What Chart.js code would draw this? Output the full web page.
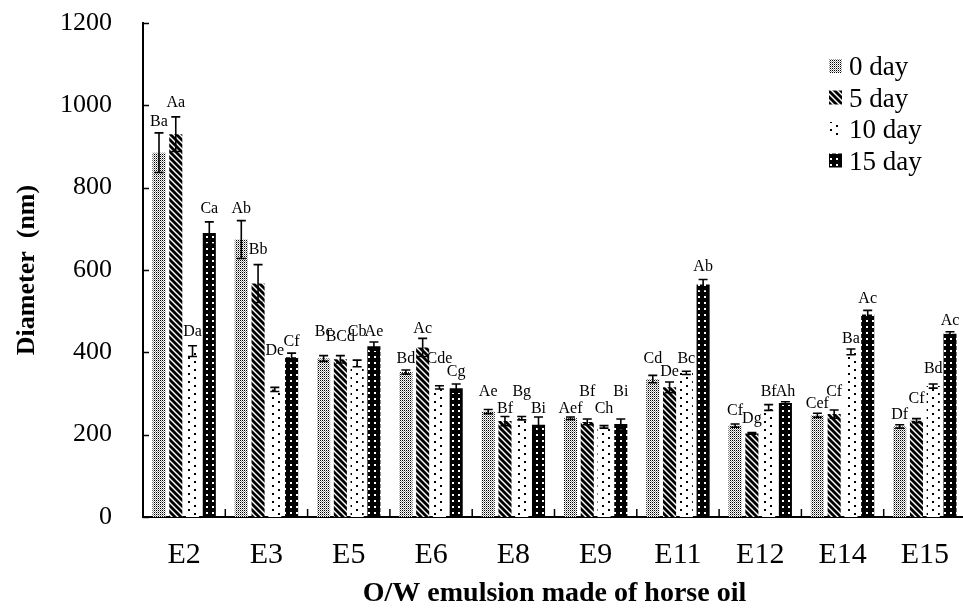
<!DOCTYPE html>
<html><head><meta charset="utf-8">
<script src="https://cdn.jsdelivr.net/npm/chart.js@4.4.0/dist/chart.umd.min.js"></script>
<style>
html,body{margin:0;padding:0;overflow:hidden;background:#fff;width:963px;height:608px}
#wrap{position:relative;width:980px;height:608px}
</style>
</head><body><div id="wrap"><canvas id="c"></canvas></div>
<script>
// ---- data ----
const categories = ['E2','E3','E5','E6','E8','E9','E11','E12','E14','E15'];
const seriesNames = ['0 day','5 day','10 day','15 day'];
const day0  = [885, 674, 385, 352, 256, 240, 335, 222, 247, 220];
const day5  = [930, 567, 383, 412, 233, 231, 315, 203, 250, 234];
const day10 = [403, 310, 373, 315, 240, 219, 350, 266, 401, 318];
const day15 = [690, 388, 415, 313, 224, 226, 565, 277, 492, 445];
const day0Err  = [48, 46, 7, 5, 5, 3, 9, 4, 5, 4];
const day5Err  = [42, 46, 9, 22, 11, 7, 13, 2, 10, 5];
const day10Err = [13, 5, 8, 4, 4, 3, 4, 7, 7, 5];
const day15Err = [27, 10, 10, 10, 19, 12, 12, 3, 10, 5];
const day0Letters  = ['Ba','Ab','Bc','Bd','Ae','Aef','Cd','Cf','Cef','Df'];
const day5Letters  = ['Aa','Bb','BCd','Ac','Bf','Bf','De','Dg','Cf','Cf'];
const day10Letters = ['Da','De','Cb','Cde','Bg','Ch','Bc','Bf','Ba','Bd'];
const day15Letters = ['Ca','Cf','Ae','Cg','Bi','Bi','Ab','Ah','Ac','Ac'];
// value (nm) at which each letter label sits
const day0LabelAt  = [950, 739, 440, 374, 293, 252, 375, 248, 265, 238];
const day5LabelAt  = [995, 638, 427, 447, 252, 293, 342, 228, 293, 277];
const day10LabelAt = [439, 394, 440, 374, 295, 252, 374, 293, 423, 350];
const day15LabelAt = [739, 415, 440, 342, 252, 293, 597, 293, 520, 467];
const yTicks = [0, 200, 400, 600, 800, 1000, 1200];

// ---- patterns ----
function tile(w, h, draw) {
  const c = document.createElement('canvas'); c.width = w; c.height = h;
  const g = c.getContext('2d'); draw(g, w, h);
  return g.createPattern(c, 'repeat');
}
const pat0 = tile(2, 2, g => {
  g.fillStyle = '#fff'; g.fillRect(0,0,2,2);
  g.fillStyle = '#000'; g.fillRect(0,0,1,1);
  g.fillStyle = '#999'; g.fillRect(1,1,1,1);
});
const pat5 = tile(6, 6, g => {
  g.fillStyle = '#fff'; g.fillRect(0,0,6,6);
  g.strokeStyle = '#000'; g.lineWidth = 2.8;
  for (let k = -1; k <= 1; k++) { g.beginPath(); g.moveTo(k*6-1, -1); g.lineTo(k*6+7, 7); g.stroke(); }
});
const pat10 = tile(12, 8, g => {
  g.fillStyle = '#fff'; g.fillRect(0,0,12,8);
  g.fillStyle = '#000'; g.fillRect(2,1,2,2); g.fillRect(8,5,2,2);
});
const pat15 = tile(6, 6, g => {
  g.fillStyle = '#000'; g.fillRect(0,0,6,6);
  g.fillStyle = '#fff'; g.fillRect(2,2,2,2);
});

const SERIF = "'Liberation Serif', 'Times New Roman', serif";

const annotPlugin = {
  id: 'annot',
  afterDatasetsDraw(chart) {
    const ctx = chart.ctx, y = chart.scales.y, x = chart.scales.x, ca = chart.chartArea;
    ctx.save();
    chart.data.datasets.forEach((ds, i) => {
      const meta = chart.getDatasetMeta(i);
      meta.data.forEach((bar, j) => {
        const v = ds.data[j], e = ds.err[j];
        const yt = y.getPixelForValue(v + e), yb = y.getPixelForValue(v - e);
        ctx.strokeStyle = '#000'; ctx.lineWidth = 1.6;
        ctx.beginPath();
        ctx.moveTo(bar.x, yt); ctx.lineTo(bar.x, yb);
        ctx.moveTo(bar.x - 4.5, yt); ctx.lineTo(bar.x + 4.5, yt);
        ctx.moveTo(bar.x - 4.5, yb); ctx.lineTo(bar.x + 4.5, yb);
        ctx.stroke();
        ctx.fillStyle = '#000'; ctx.font = '16px ' + SERIF;
        ctx.textAlign = 'center'; ctx.textBaseline = 'alphabetic';
        ctx.fillText(ds.letters[j], bar.x, y.getPixelForValue(ds.labelAt[j]));
      });
    });
    // inside tick marks
    ctx.strokeStyle = '#000'; ctx.lineWidth = 1.5;
    ctx.beginPath();
    yTicks.forEach(t => { const p = Math.round(y.getPixelForValue(t)) + 0.5; ctx.moveTo(ca.left, p); ctx.lineTo(ca.left + 6, p); });
    for (let k = 1; k < categories.length; k++) {
      const p = (x.getPixelForValue(k - 1) + x.getPixelForValue(k)) / 2;
      ctx.moveTo(p, ca.bottom); ctx.lineTo(p, ca.bottom - 8);
    }
    ctx.stroke();
    // legend
    chart.data.datasets.forEach((ds, i) => {
      const top = 59 + i * 31.5;
      ctx.fillStyle = ds.backgroundColor; ctx.fillRect(829, top, 13, 14);
      ctx.fillStyle = '#000'; ctx.font = '27px ' + SERIF;
      ctx.textAlign = 'left'; ctx.textBaseline = 'alphabetic';
      ctx.fillText(ds.label, 849, top + 16);
    });
    ctx.restore();
  }
};

function mk(label, data, err, letters, labelAt, pat) {
  return { label, data, err, letters, labelAt, backgroundColor: pat, borderWidth: 0,
           categoryPercentage: 0.815, barPercentage: 0.78 };
}

new Chart(document.getElementById('c'), {
  type: 'bar',
  data: {
    labels: categories,
    datasets: [
      mk(seriesNames[0], day0, day0Err, day0Letters, day0LabelAt, pat0),
      mk(seriesNames[1], day5, day5Err, day5Letters, day5LabelAt, pat5),
      mk(seriesNames[2], day10, day10Err, day10Letters, day10LabelAt, pat10),
      mk(seriesNames[3], day15, day15Err, day15Letters, day15LabelAt, pat15)
    ]
  },
  options: {
    responsive: true, maintainAspectRatio: false, animation: false,
    layout: { padding: { top: 23, right: 14, left: 0, bottom: 0 } },
    plugins: { legend: { display: false }, tooltip: { enabled: false } },
    scales: {
      x: {
        grid: { display: false },
        border: { display: true, color: '#000', width: 2 },
        ticks: { color: '#000', font: { family: SERIF, size: 30 }, padding: 12, maxRotation: 0, autoSkip: false },
        title: { display: true, text: 'O/W emulsion made of horse oil', color: '#000',
                 font: { family: SERIF, size: 28, weight: 'bold', lineHeight: 1 }, padding: { top: 0, bottom: 0 } },
        afterFit(s) { s.height = 91; s.paddingLeft = 0; s.paddingRight = 0; }
      },
      y: {
        min: 0, max: 1200,
        grid: { display: false },
        border: { display: true, color: '#000', width: 2 },
        ticks: { stepSize: 200, color: '#000', font: { family: SERIF, size: 26 }, padding: 23,
                 callback: v => String(v) },
        title: { display: true, text: 'Diameter  (nm)', color: '#000',
                 font: { family: SERIF, size: 26, weight: 'bold', lineHeight: 1.2 }, padding: { top: 12, bottom: 0 } },
        afterFit(s) { s.width = 143; s.paddingTop = 0; s.paddingBottom = 0; }
      }
    }
  },
  plugins: [annotPlugin]
});
</script></body></html>
